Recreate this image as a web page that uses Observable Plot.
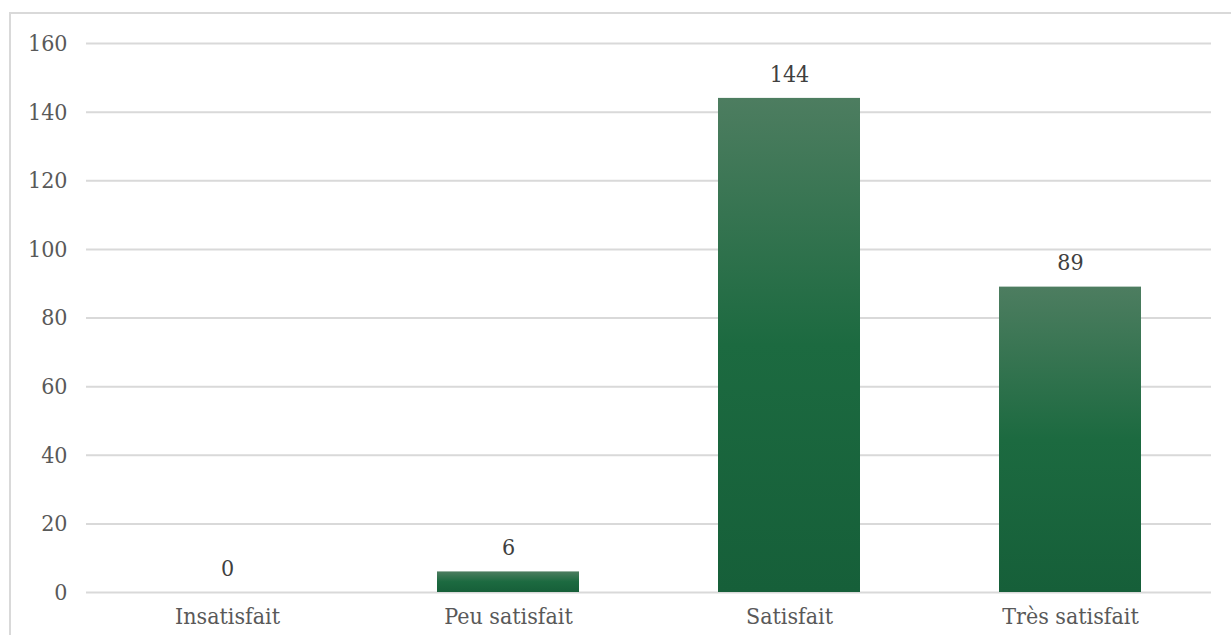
<!DOCTYPE html>
<html>
<head>
<meta charset="utf-8">
<script src="https://cdn.jsdelivr.net/npm/d3@7"></script>
<script src="https://cdn.jsdelivr.net/npm/@observablehq/plot@0.6"></script>
<style>
  html, body { margin: 0; padding: 0; background: #fff; overflow: hidden; }
  #wrap { position: relative; width: 1231px; height: 635px; }
  #border { position: absolute; left: 9px; top: 12px; width: 1240px; height: 700px; border: 2px solid #d9d9d9; box-sizing: border-box; }
  #chart { position: absolute; left: 0; top: 0; }
</style>
</head>
<body>
<div id="wrap"><div id="border"></div><div id="chart"></div></div>
<script>
const categories = ["Insatisfait", "Peu satisfait", "Satisfait", "Très satisfait"];
const values = [0, 6, 144, 89];
const yTicks = [0, 20, 40, 60, 80, 100, 120, 140, 160];

const data = categories.map((c, i) => ({category: c, value: values[i]}));

const FONT = "'DejaVu Serif Condensed', 'DejaVu Serif', serif";
const chart = Plot.plot({
  width: 1231,
  height: 635,
  marginLeft: 86,
  marginRight: 20,
  marginTop: 43,
  marginBottom: 43,
  style: {fontFamily: FONT, fontSize: "23px", color: "#595959", background: "transparent", fontStretch: "condensed"},
  x: {domain: categories, paddingInner: 0.495, paddingOuter: 0.2475, label: null},
  y: {domain: [0, 160], ticks: yTicks, label: null},
  marks: [
    Plot.ruleY(yTicks, {stroke: "#d9d9d9", strokeWidth: 2}),
    Plot.barY(data, {x: "category", y: "value", fill: "url(#barGrad)", style: {filter: "drop-shadow(0px 1px 2px rgba(0,0,0,0.35))"}}),
    Plot.text(data, {x: "category", y: "value", text: d => String(d.value), dy: -24, fill: "#404040", fontSize: 23}),
    Plot.axisY({ticks: yTicks, tickSize: 0, tickPadding: 19, label: null, fill: "#595959", fontSize: 23}),
    Plot.axisX({tickSize: 0, tickPadding: 15, label: null, fill: "#595959", fontSize: 23})
  ]
});

const ns = "http://www.w3.org/2000/svg";
const defs = document.createElementNS(ns, "defs");
defs.innerHTML = `<linearGradient id="barGrad" x1="0" y1="0" x2="0" y2="1">
  <stop offset="0" stop-color="#4d7d60"/>
  <stop offset="0.5" stop-color="#1c6a40"/>
  <stop offset="1" stop-color="#165f39"/>
</linearGradient>`;
chart.insertBefore(defs, chart.firstChild);
document.getElementById("chart").appendChild(chart);
</script>
</body>
</html>
